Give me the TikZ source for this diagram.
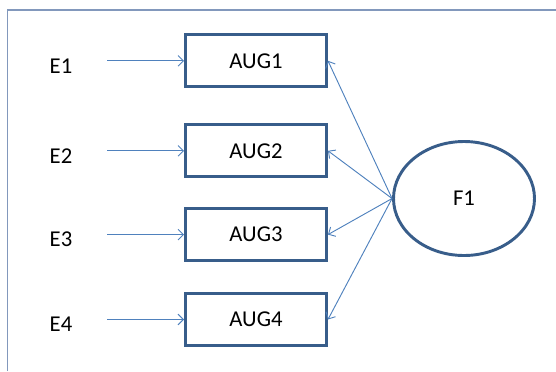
\documentclass[tikz,border=0pt]{standalone}
\usepackage{fontspec}
\setmainfont{Carlito}
\usepackage{xcolor}
\usetikzlibrary{arrows.meta,shapes.geometric}
\definecolor{boxblue}{RGB}{56,93,138}
\definecolor{arrblue}{RGB}{79,129,189}
\definecolor{frameblue}{RGB}{130,152,188}
\tikzset{
  augbox/.style={draw=boxblue, line width=2.2pt, fill=white, minimum width=105.75pt, minimum height=39pt, font=\fontsize{17}{20}\selectfont},
  latent/.style={ellipse, draw=boxblue, line width=2.2pt, minimum width=105.75pt, minimum height=85.5pt, font=\fontsize{17}{20}\selectfont},
  elabel/.style={font=\fontsize{17}{20}\selectfont},
  arr/.style={draw=arrblue, line width=0.7pt, -{Straight Barb[length=4pt,width=8pt]}}
}

\begin{document}
\begin{tikzpicture}[x=0.75pt,y=-0.75pt]
\useasboundingbox (0,0) rectangle (556,371);
% frame
\draw[frameblue, line width=1.4pt] (7.5,371) -- (7.5,10) -- (556,10);
% factor
\node[latent] (f1) at (464,198.5) {F1};
% indicators
\foreach \i/\y in {1/60.8,2/150.8,3/234.6,4/319.5} {
    \node[augbox] (aug\i) at (256,\y) {AUG\i};
    \node[elabel] (e\i) at (61,\y+5) {E\i};
    \coordinate (s\i) at (107,\y);
    \draw[arr] (s\i) -- (aug\i);
    \draw[arr] (f1.west) -- (aug\i.east);
}
\end{tikzpicture}
\end{document}
